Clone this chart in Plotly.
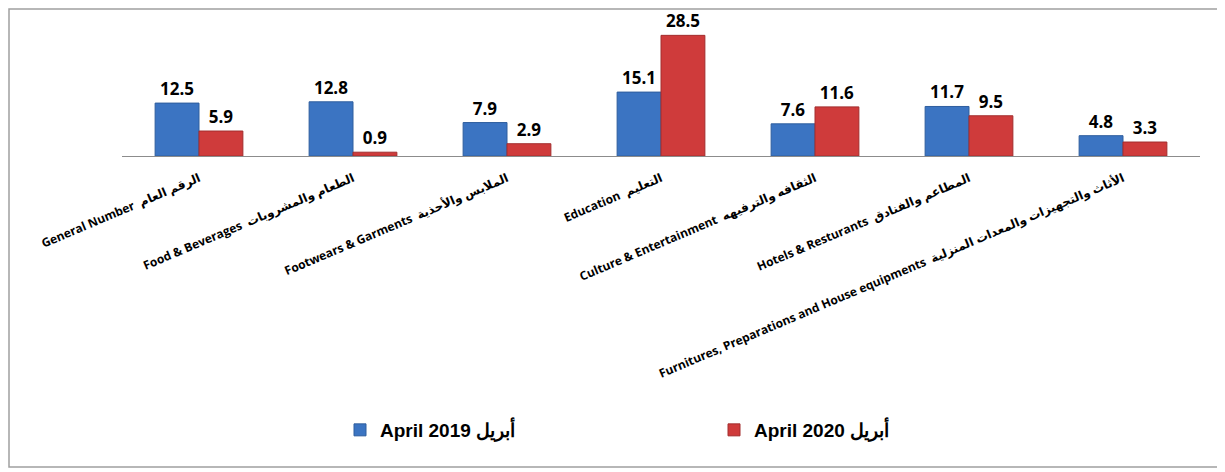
import plotly.graph_objects as go

categories = [
    "General Number\u00a0\u00a0الرقم العام",
    "Food & Beverages\u00a0\u00a0الطعام والمشروبات",
    "Footwears & Garments\u00a0\u00a0الملابس والأحذية",
    "Education\u00a0\u00a0التعليم",
    "Culture & Entertainment\u00a0\u00a0الثقافه والترفيهه",
    "Hotels & Resturants\u00a0\u00a0المطاعم والفنادق",
    "Furnitures, Preparations and House equipments\u00a0\u00a0الأثاث والتجهيزات والمعدات المنزلية",
]
april_2019 = [12.5, 12.8, 7.9, 15.1, 7.6, 11.7, 4.8]
april_2020 = [5.9, 0.9, 2.9, 28.5, 11.6, 9.5, 3.3]
series_names = ["April 2019 أبريل", "April 2020 أبريل"]

# page body has an 8px margin; figure is sized so it fills the rest of the window
W, H = 1217, 464
L, R, T, B = 114, 25, 21, 316
plot_h = H - T - B
plot_w = W - L - R

label_font = dict(family="Open Sans, DejaVu Sans", size=17, color="#000000", weight="bold")

fig = go.Figure()
fig.add_trace(go.Bar(
    x=categories, y=april_2019, name=series_names[0],
    marker=dict(color="#3B74C2", line=dict(color="#2F5E9E", width=1)),
    text=[f"{v:.1f}" for v in april_2019], textposition="outside",
    textfont=label_font, cliponaxis=False,
))
fig.add_trace(go.Bar(
    x=categories, y=april_2020, name=series_names[1],
    marker=dict(color="#CF3B3B", line=dict(color="#A32E2E", width=1)),
    text=[f"{v:.1f}" for v in april_2020], textposition="outside",
    textfont=label_font, cliponaxis=False,
))

fig.update_layout(
    width=W, height=H,
    margin=dict(l=L, r=R, t=T, b=B),
    plot_bgcolor="white", paper_bgcolor="white",
    barmode="group", bargap=0.43, bargroupgap=0,
    showlegend=True,
    legend=dict(
        orientation="h", xref="container", yref="container",
        x=332 / W, xanchor="left", y=1 - 422 / H, yanchor="middle",
        entrywidth=329, entrywidthmode="pixels",
        bgcolor="rgba(0,0,0,0)",
        font=dict(family="Liberation Sans, Arial", size=19, color="#000000", weight="bold"),
        traceorder="normal",
    ),
    xaxis=dict(
        tickangle=-23, showline=True, linecolor="#8C8C8C", linewidth=1,
        ticks="", showgrid=False, automargin=False, ticklabelstandoff=10,
        tickfont=dict(family="Open Sans, DejaVu Sans", size=12, color="#000000", weight="bold"),
    ),
    yaxis=dict(
        range=[0, 30], showticklabels=False, showgrid=False, zeroline=False,
        showline=False, ticks="", automargin=False,
    ),
    shapes=[dict(
        type="rect", xref="paper", yref="paper",
        x0=(1 - L) / plot_w, x1=(1213 - L) / plot_w,
        y0=-(459 - (T + plot_h)) / plot_h, y1=(T + plot_h - 1) / plot_h,
        line=dict(color="#A0A0A0", width=1.5), fillcolor="rgba(0,0,0,0)", layer="below",
    )],
)

fig.write_html("out.html")
